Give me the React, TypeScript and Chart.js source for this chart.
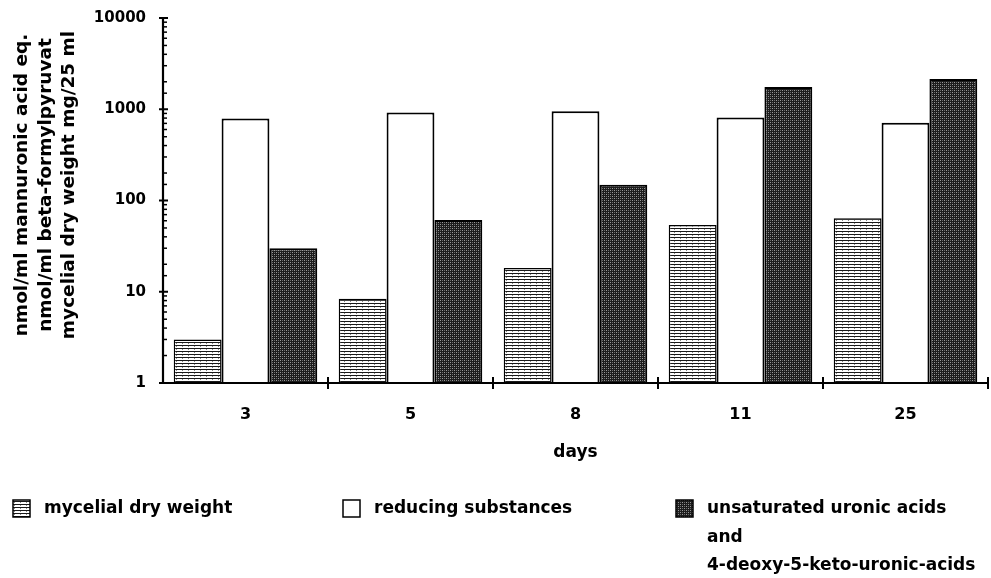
import React, { useEffect, useRef } from 'react';
import { Chart, registerables } from 'chart.js';

Chart.register(...registerables);

const days = ['3', '5', '8', '11', '25'];
const dryWeight = [3.0, 8.4, 18.2, 54, 64];
const reducingSubstances = [790, 920, 950, 810, 710];
const uronicAcids = [30, 61, 149, 1750, 2150];
const yMajorTicks = [1, 10, 100, 1000, 10000];
const yTitleLines = [
  'nmol/ml mannuronic acid eq.',
  'nmol/ml beta-formylpyruvat',
  'mycelial dry weight mg/25 ml',
];
const xTitle = 'days';
const seriesLabels = [
  ['mycelial dry weight'],
  ['reducing substances'],
  ['unsaturated uronic acids', 'and', '4-deoxy-5-keto-uronic-acids'],
];

const FONT = '"DejaVu Sans", sans-serif';

function makeHatch(ctx: CanvasRenderingContext2D) {
  const c = document.createElement('canvas');
  c.width = 6;
  c.height = 3;
  const g = c.getContext('2d')!;
  g.fillStyle = '#ffffff';
  g.fillRect(0, 0, 6, 3);
  g.fillStyle = '#1a1a1a';
  g.fillRect(0, 0, 6, 1);
  g.fillStyle = '#888888';
  g.fillRect(2, 1, 1, 1);
  return ctx.createPattern(c, 'repeat')!;
}

function makeStipple(ctx: CanvasRenderingContext2D) {
  const c = document.createElement('canvas');
  c.width = 4;
  c.height = 4;
  const g = c.getContext('2d')!;
  g.fillStyle = '#1c1c1c';
  g.fillRect(0, 0, 4, 4);
  g.fillStyle = '#9a9a9a';
  g.fillRect(0, 0, 1, 1);
  g.fillRect(2, 2, 1, 1);
  g.fillStyle = '#6a6a6a';
  g.fillRect(2, 0, 1, 1);
  g.fillRect(0, 2, 1, 1);
  return ctx.createPattern(c, 'repeat')!;
}

const decorPlugin = {
  id: 'decor',
  afterDraw(chart: any) {
    const ctx: CanvasRenderingContext2D = chart.ctx;
    const xs = chart.scales.x;
    const ys = chart.scales.y;
    const area = chart.chartArea;
    ctx.save();
    ctx.strokeStyle = '#000';
    ctx.fillStyle = '#000';

    // axes lines
    ctx.lineWidth = 2.2;
    ctx.beginPath();
    ctx.moveTo(area.left, area.top);
    ctx.lineTo(area.left, area.bottom);
    ctx.lineTo(area.right, area.bottom);
    ctx.stroke();

    // y ticks
    ys.ticks.forEach((t: any) => {
      const py = ys.getPixelForValue(t.value);
      const major = yMajorTicks.includes(t.value);
      ctx.lineWidth = major ? 2 : 1.5;
      ctx.beginPath();
      ctx.moveTo(area.left - (major ? 4 : 0), py);
      ctx.lineTo(area.left + (major ? 5 : 4), py);
      ctx.stroke();
    });

    // x boundary ticks
    ctx.lineWidth = 2;
    for (let i = 1; i <= days.length; i++) {
      const px = xs.getPixelForValue(i - 0.5);
      ctx.beginPath();
      ctx.moveTo(px, area.bottom - 6);
      ctx.lineTo(px, area.bottom + 6);
      ctx.stroke();
    }

    // y title
    ctx.font = `bold 18.5px ${FONT}`;
    ctx.textAlign = 'center';
    ctx.textBaseline = 'middle';
    const titleX = [22, 46, 69];
    yTitleLines.forEach((line, i) => {
      ctx.save();
      ctx.translate(titleX[i], 185);
      ctx.rotate(-Math.PI / 2);
      ctx.fillText(line, 0, 0);
      ctx.restore();
    });

    // x title
    ctx.font = `bold 17px ${FONT}`;
    ctx.fillText(xTitle, (area.left + area.right) / 2, 453);

    // legend
    const legendX = [13, 343, 676];
    const lineYs = [509, 538, 566];
    chart.data.datasets.forEach((ds: any, i: number) => {
      const sx = legendX[i];
      ctx.fillStyle = ds.backgroundColor;
      ctx.fillRect(sx, 500, 17, 17);
      ctx.lineWidth = 1.5;
      ctx.strokeStyle = '#000';
      ctx.strokeRect(sx, 500, 17, 17);
      ctx.fillStyle = '#000';
      ctx.textAlign = 'left';
      ctx.font = `bold 17px ${FONT}`;
      seriesLabels[i].forEach((txt, j) => {
        ctx.fillText(txt, sx + 31, lineYs[j]);
      });
    });
    ctx.restore();
  },
};

export default function App() {
  const ref = useRef<HTMLCanvasElement>(null);

  useEffect(() => {
    const canvas = ref.current!;
    const ctx = canvas.getContext('2d')!;
    const hatch = makeHatch(ctx);
    const stipple = makeStipple(ctx);
    const chart = new Chart(canvas, {
      type: 'bar',
      data: {
        labels: days,
        datasets: [
          {
            label: seriesLabels[0].join(' '),
            data: dryWeight,
            backgroundColor: hatch as any,
            borderColor: '#000',
            borderWidth: 1.5,
          },
          {
            label: seriesLabels[1].join(' '),
            data: reducingSubstances,
            backgroundColor: '#ffffff',
            borderColor: '#000',
            borderWidth: 2,
          },
          {
            label: seriesLabels[2].join(' '),
            data: uronicAcids,
            backgroundColor: stipple as any,
            borderColor: '#000',
            borderWidth: 2,
          },
        ],
      },
      options: {
        responsive: false,
        animation: false,
        events: [],
        layout: { padding: { top: 15, right: 3, left: 0, bottom: 0 } },
        datasets: {
          bar: { categoryPercentage: 0.87, barPercentage: 1 },
        },
        plugins: {
          legend: { display: false },
          tooltip: { enabled: false },
        },
        scales: {
          x: {
            grid: { display: false },
            border: { display: false },
            ticks: {
              color: '#000',
              font: { family: FONT, weight: 'bold', size: 16 },
              padding: 14,
            },
            afterFit: (s: any) => {
              s.height = 578 - 383;
            },
          },
          y: {
            type: 'logarithmic',
            min: 1,
            max: 10000,
            grid: { display: false },
            border: { display: false },
            ticks: {
              autoSkip: false,
              color: '#000',
              padding: 9,
              font: { family: FONT, weight: 'bold', size: 15 },
              callback: (v: any) => (yMajorTicks.includes(Number(v)) ? String(v) : ''),
            },
            afterFit: (s: any) => {
              s.width = 163;
            },
          },
        },
      },
      plugins: [decorPlugin],
    });
    return () => chart.destroy();
  }, []);

  return (
    <div style={{ position: 'absolute', left: 0, top: 0, width: 991, height: 578, background: '#fff' }}>
      <canvas ref={ref} width={991} height={578} style={{ display: 'block' }} />
    </div>
  );
}
